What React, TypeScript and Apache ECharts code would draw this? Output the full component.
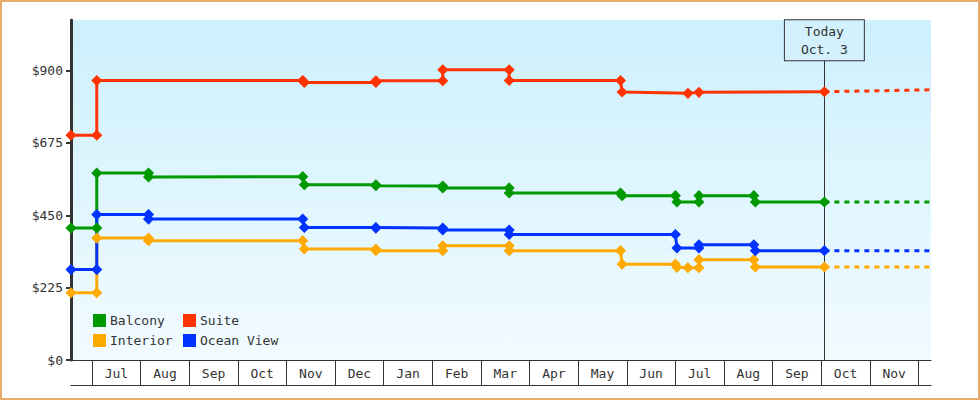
import React, { useEffect, useRef } from 'react';
import * as echarts from 'echarts';

// ---------- data ----------
const monthLabels = ['Jul', 'Aug', 'Sep', 'Oct', 'Nov', 'Dec', 'Jan', 'Feb', 'Mar', 'Apr', 'May', 'Jun', 'Jul', 'Aug', 'Sep', 'Oct', 'Nov'];
const yTicks = [0, 225, 450, 675, 900];

const startDate = '2018-06-18';
const endDate = '2019-12-09';
const todayDate = '2019-10-03';
const todayLabel = 'Today\nOct. 3';

const balconyDates = ['2018-06-18', '2018-07-04', '2018-07-04', '2018-08-06', '2018-08-06', '2018-11-11', '2018-11-12', '2018-12-27', '2018-12-27', '2019-02-07', '2019-02-07', '2019-03-19', '2019-03-19', '2019-05-28', '2019-05-29', '2019-07-01', '2019-07-02', '2019-07-16', '2019-07-16', '2019-08-20', '2019-08-21', '2019-10-03'];
const balconyPrices = [410, 410, 581, 581, 569, 570, 545, 545, 542, 541, 535, 535, 519, 519, 511, 511, 491, 491, 511, 511, 491, 491];

const suiteDates = ['2018-06-18', '2018-07-04', '2018-07-04', '2018-11-11', '2018-11-12', '2018-12-27', '2018-12-27', '2019-02-07', '2019-02-07', '2019-03-19', '2019-03-19', '2019-05-28', '2019-05-29', '2019-07-09', '2019-07-16', '2019-10-03'];
const suitePrices = [699, 699, 869, 869, 863, 863, 868, 868, 902, 902, 869, 869, 833, 829, 832, 834];

const interiorDates = ['2018-06-18', '2018-07-04', '2018-07-04', '2018-08-06', '2018-08-06', '2018-11-11', '2018-11-12', '2018-12-27', '2018-12-27', '2019-02-07', '2019-02-07', '2019-03-19', '2019-03-19', '2019-05-28', '2019-05-29', '2019-07-01', '2019-07-02', '2019-07-09', '2019-07-16', '2019-07-16', '2019-08-20', '2019-08-21', '2019-10-03'];
const interiorPrices = [209, 209, 379, 379, 371, 371, 345, 345, 340, 340, 355, 355, 340, 340, 298, 298, 288, 287, 287, 312, 312, 289, 289];

const oceanDates = ['2018-06-18', '2018-07-04', '2018-07-04', '2018-08-06', '2018-08-06', '2018-11-11', '2018-11-12', '2018-12-27', '2018-12-27', '2019-02-07', '2019-02-07', '2019-03-19', '2019-03-19', '2019-07-01', '2019-07-02', '2019-07-16', '2019-07-16', '2019-08-20', '2019-08-21', '2019-10-03'];
const oceanPrices = [281, 281, 452, 452, 438, 438, 412, 412, 410, 410, 404, 404, 390, 390, 348, 348, 358, 358, 340, 340];

const forecastDates = ['2019-10-03', '2019-12-09'];
const balconyForecast = [491, 491];
const suiteForecast = [834, 840];
const interiorForecast = [289, 289];
const oceanForecast = [340, 340];

const yMax = 1057;
const todayLineTop = 932;

// ---------- helpers ----------
const MONO = "'DejaVu Sans Mono', 'Liberation Mono', monospace";
const TEXT = '#333';

function pos(d: string): number {
  const [y, m, day] = d.split('-').map(Number);
  const idx = (y - 2018) * 12 + (m - 7);
  const dim = new Date(y, m, 0).getDate();
  return idx + (day - 1) / dim;
}

const COLORS = {
  Balcony: '#009900',
  Suite: '#ff3300',
  Interior: '#ffaa00',
  'Ocean View': '#0033ff',
};

function mainSeries(name: keyof typeof COLORS, dates: string[], prices: number[], extra: any = {}) {
  const color = COLORS[name];
  return {
    type: 'line',
    name,
    data: dates.map((d, i) => [pos(d), prices[i]]),
    symbol: 'diamond',
    symbolSize: 9,
    showSymbol: true,
    lineStyle: { color, width: 3 },
    itemStyle: { color, borderColor: color, borderWidth: 1.5 },
    emphasis: { disabled: true },
    z: 3,
    ...extra,
  };
}

function forecastSeries(name: keyof typeof COLORS, prices: number[]) {
  const color = COLORS[name];
  return {
    type: 'line',
    name,
    data: forecastDates.map((d, i) => [pos(d), prices[i]]),
    symbol: 'none',
    showSymbol: false,
    lineStyle: { color, width: 3, type: [5, 5], dashOffset: 0 },
    itemStyle: { color },
    emphasis: { disabled: true },
    z: 2,
  };
}

export default function App() {
  const ref = useRef<HTMLDivElement>(null);

  useEffect(() => {
    if (!ref.current) return;
    const chart = echarts.init(ref.current, null, { renderer: 'svg' });
    const xMin = pos(startDate);
    const xMax = pos(endDate);
    const tickVals = monthLabels.map((_, i) => i).concat([monthLabels.length]);
    const labelVals = monthLabels.map((_, i) => i + 0.5);
    const tx = pos(todayDate);

    const legendCommon = {
      orient: 'vertical',
      icon: 'rect',
      itemWidth: 11,
      itemHeight: 11,
      itemGap: 7,
      top: 314,
      padding: 0,
      selectedMode: false,
      textStyle: { fontFamily: MONO, fontSize: 13, color: TEXT, lineHeight: 13 },
    };

    chart.setOption({
      animation: false,
      backgroundColor: '#ffffff',
      textStyle: { fontFamily: MONO },
      grid: {
        left: 71,
        right: 49,
        top: 20,
        bottom: 40,
        show: true,
        borderWidth: 0,
        backgroundColor: new echarts.graphic.LinearGradient(0, 0, 0, 1, [
          { offset: 0, color: '#ccf0fd' },
          { offset: 1, color: '#f2fbff' },
        ]),
      },
      legend: [
        { ...legendCommon, left: 93, data: ['Balcony', 'Interior'] },
        { ...legendCommon, left: 183, data: ['Suite', 'Ocean View'] },
      ],
      xAxis: [
        {
          type: 'value',
          min: xMin,
          max: xMax,
          axisLine: { show: true, onZero: false, lineStyle: { color: TEXT, width: 1 } },
          axisTick: {
            show: true,
            inside: false,
            length: 25,
            lineStyle: { color: TEXT, width: 1 },
            customValues: tickVals,
          },
          axisLabel: {
            show: true,
            margin: 7,
            fontFamily: MONO,
            fontSize: 13,
            color: TEXT,
            customValues: labelVals,
            formatter: (v: number) => monthLabels[Math.floor(v)] ?? '',
          },
          splitLine: { show: false },
        },
        {
          type: 'value',
          position: 'bottom',
          offset: 25,
          min: xMin,
          max: xMax,
          axisLine: { show: true, onZero: false, lineStyle: { color: TEXT, width: 1 } },
          axisTick: { show: false },
          axisLabel: { show: false },
          splitLine: { show: false },
        },
      ],
      yAxis: {
        type: 'value',
        min: 0,
        max: yMax,
        axisLine: { show: true, onZero: false, lineStyle: { color: TEXT, width: 3 } },
        axisTick: { show: true, length: 5, lineStyle: { color: TEXT, width: 2 }, customValues: yTicks },
        axisLabel: {
          margin: 8,
          fontFamily: MONO,
          fontSize: 13,
          color: TEXT,
          customValues: yTicks,
          formatter: (v: number) => '$' + v,
        },
        splitLine: { show: false },
      },
      series: [
        mainSeries('Balcony', balconyDates, balconyPrices, {
          markLine: {
            silent: true,
            z: 1,
            symbol: ['none', 'none'],
            lineStyle: { color: TEXT, width: 1, type: 'solid' },
            emphasis: { disabled: true },
            label: {
              show: true,
              position: 'end',
              distance: 0,
              formatter: todayLabel,
              color: TEXT,
              fontFamily: MONO,
              fontSize: 13,
              lineHeight: 18,
              align: 'center',
              backgroundColor: '#d2f1fc',
              borderColor: TEXT,
              borderWidth: 1,
              padding: [2, 16, 2, 16],
            },
            data: [[{ coord: [tx, 0] }, { coord: [tx, todayLineTop] }]],
          },
        }),
        mainSeries('Suite', suiteDates, suitePrices),
        mainSeries('Interior', interiorDates, interiorPrices),
        mainSeries('Ocean View', oceanDates, oceanPrices),
        forecastSeries('Balcony', balconyForecast),
        forecastSeries('Suite', suiteForecast),
        forecastSeries('Interior', interiorForecast),
        forecastSeries('Ocean View', oceanForecast),
      ],
    });

    return () => chart.dispose();
  }, []);

  return (
    <div style={{ position: 'fixed', left: 0, top: 0, width: 980, height: 400 }}>
      <div ref={ref} style={{ position: 'absolute', left: 0, top: 0, width: 980, height: 400 }} />
      <div
        style={{
          position: 'absolute',
          left: 0,
          top: 0,
          width: 980,
          height: 400,
          boxSizing: 'border-box',
          border: '2px solid #e6ac6c',
          pointerEvents: 'none',
        }}
      />
    </div>
  );
}
